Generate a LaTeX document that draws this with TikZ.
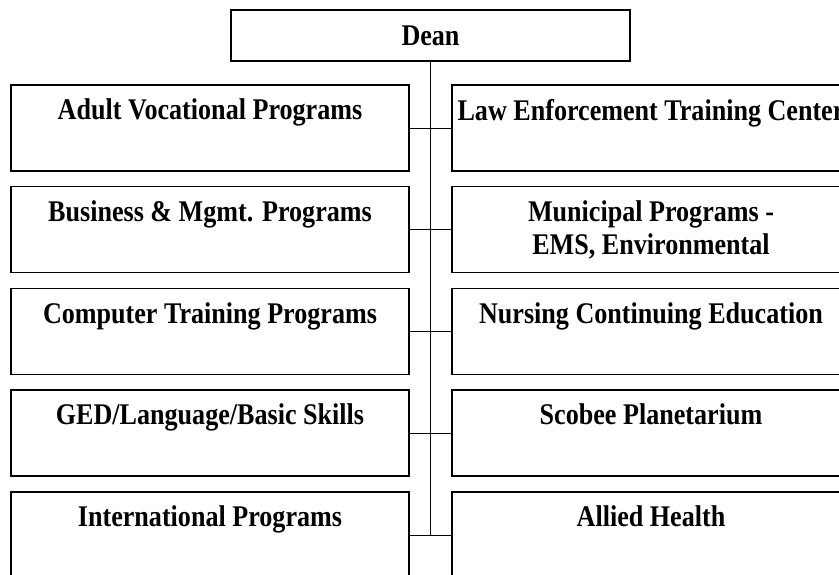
\documentclass[tikz,border=0pt]{standalone}
\usepackage{fontspec}
\setmainfont{Liberation Serif}[FakeStretch=0.87]
\begin{document}
\begin{tikzpicture}[x=1pt,y=-1pt,
	every node/.style={font=\bfseries\fontsize{30}{33}\selectfont},
	unit/.style={draw,line width=1.2pt,minimum width=398pt,minimum height=86pt,inner sep=0pt},
	lbl/.style={anchor=north,yshift=-14.5pt,align=center,inner sep=0pt},
	link/.style={line width=1pt}]
	
	\clip (0,0) rectangle (839,574);
	
	\node[draw,line width=1.2pt,minimum width=399pt,minimum height=51pt,inner sep=0pt] (dean) at (430.5,35.5) {Dean};
	
	\node[unit,label={[lbl]90:Adult Vocational Programs}] (avp) at (210,128) {};
	\node[unit,label={[lbl]90:Business \& Mgmt. Programs}] (bmp) at (210,229.5) {};
	\node[unit,label={[lbl]90:Computer Training Programs}] (ctp) at (210,331.5) {};
	\node[unit,label={[lbl]90:GED/Language/Basic Skills}] (ged) at (210,433) {};
	\node[unit,label={[lbl]90:International Programs}] (ip) at (210,535) {};
	
	\node[unit,label={[lbl]90:Law Enforcement Training Center}] (letc) at (651,128) {};
	\node[unit,label={[lbl]90:{Municipal Programs -\\EMS, Environmental}}] (mun) at (651,229.5) {};
	\node[unit,label={[lbl]90:Nursing Continuing Education}] (nce) at (651,331.5) {};
	\node[unit,label={[lbl]90:Scobee Planetarium}] (sp) at (651,433) {};
	\node[unit,label={[lbl]90:Allied Health}] (ah) at (651,535) {};
	
	\draw[link] (dean.south) -- (dean.south |- ah.west);
	\draw[link] (avp.east) -- (letc.west);
	\draw[link] (bmp.east) -- (mun.west);
	\draw[link] (ctp.east) -- (nce.west);
	\draw[link] (ged.east) -- (sp.west);
	\draw[link] (ip.east) -- (ah.west);
\end{tikzpicture}
\end{document}
